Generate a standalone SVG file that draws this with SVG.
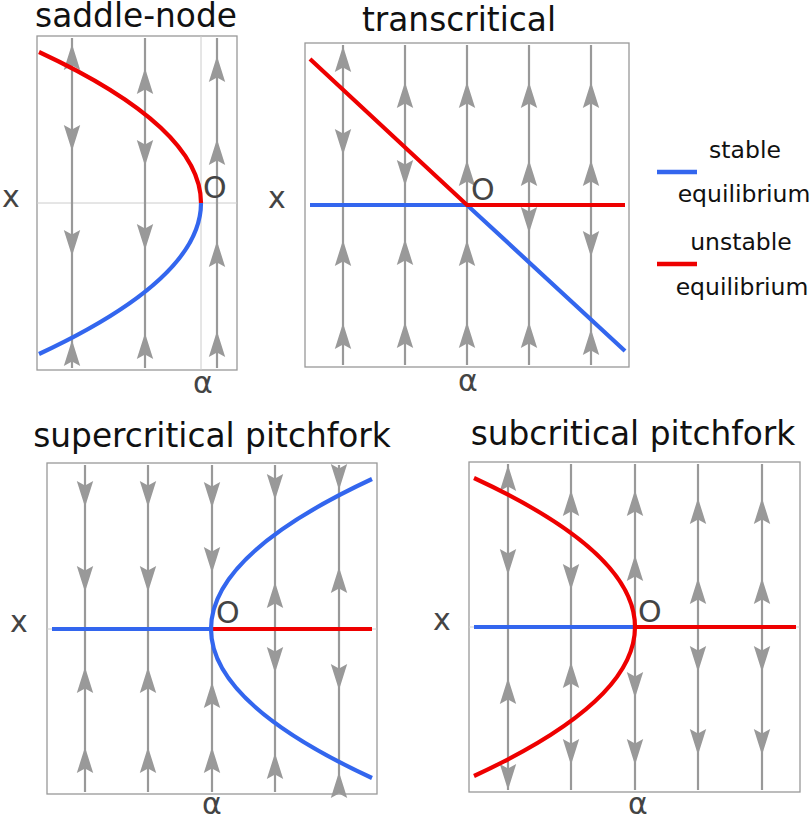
<svg xmlns="http://www.w3.org/2000/svg" xmlns:xlink="http://www.w3.org/1999/xlink" width="812" height="819" viewBox="0 0 812 819">
<style>
.frame{fill:none;stroke:#999;stroke-width:1.3}
.axis{stroke:#ccc;stroke-width:1}
.sl{stroke:#999;stroke-width:2.2;fill:none}
.ar{fill:#999}
.st{stroke:#3366ee;stroke-width:4.2;fill:none}
.un{stroke:#ee0000;stroke-width:4.2;fill:none}
.title{font-family:"DejaVu Sans",sans-serif;font-size:32.8px;fill:#111;text-anchor:middle}
.lab{font-family:"DejaVu Sans",sans-serif;font-size:30px;fill:#444}
.leg{font-family:"DejaVu Sans",sans-serif;font-size:23.5px;fill:#111;text-anchor:middle}
</style>
<defs>
<path id="au" class="ar" d="M0,0 L8.2,26 L0,21.5 L-8.2,26Z"/>
<path id="ad" class="ar" d="M0,0 L8.2,-26 L0,-21.5 L-8.2,-26Z"/>
</defs>
<rect width="812" height="819" fill="#fff"/>

<g id="saddle-node">
<text class="title" x="136" y="27">saddle-node</text>
<rect class="frame" x="37" y="36" width="200" height="334"/>
<line class="axis" x1="37" y1="203" x2="237" y2="203"/>
<line class="axis" x1="201" y1="36" x2="201" y2="370"/>
<g class="sl">
<line x1="72" y1="38" x2="72" y2="368"/>
<line x1="145" y1="38" x2="145" y2="368"/>
<line x1="217" y1="38" x2="217" y2="368"/>
</g>
<use xlink:href="#au" x="72" y="44"/><use xlink:href="#ad" x="72" y="151"/><use xlink:href="#ad" x="72" y="256"/><use xlink:href="#au" x="72" y="340"/>
<use xlink:href="#au" x="145" y="68"/><use xlink:href="#ad" x="145" y="166"/><use xlink:href="#ad" x="145" y="250"/><use xlink:href="#au" x="145" y="333"/>
<use xlink:href="#au" x="217" y="56"/><use xlink:href="#au" x="217" y="139"/><use xlink:href="#au" x="217" y="241"/><use xlink:href="#au" x="217" y="331"/>
<path class="un" d="M39,52 Q201,127.5 201,203"/>
<path class="st" d="M201,203 Q201,278.5 39,354"/>
<text class="lab" x="203" y="198">O</text>
<text class="lab" x="11" y="207" text-anchor="middle">x</text>
<text class="lab" x="203" y="393" text-anchor="middle">α</text>
</g>

<g id="transcritical">
<text class="title" x="459" y="31">transcritical</text>
<rect class="frame" x="305" y="43" width="324" height="324"/>
<g class="sl">
<line x1="343" y1="45" x2="343" y2="365"/>
<line x1="405" y1="45" x2="405" y2="365"/>
<line x1="467" y1="45" x2="467" y2="365"/>
<line x1="529" y1="45" x2="529" y2="365"/>
<line x1="591" y1="45" x2="591" y2="365"/>
</g>
<use xlink:href="#au" x="343" y="46"/><use xlink:href="#ad" x="343" y="155"/><use xlink:href="#au" x="343" y="240"/><use xlink:href="#au" x="343" y="323"/>
<use xlink:href="#au" x="405" y="82"/><use xlink:href="#ad" x="405" y="186"/><use xlink:href="#au" x="405" y="239"/><use xlink:href="#au" x="405" y="322"/>
<use xlink:href="#au" x="467" y="82"/><use xlink:href="#au" x="467" y="160"/><use xlink:href="#au" x="467" y="240"/><use xlink:href="#au" x="467" y="322"/>
<use xlink:href="#au" x="529" y="82"/><use xlink:href="#au" x="529" y="160"/><use xlink:href="#ad" x="529" y="233"/><use xlink:href="#au" x="529" y="322"/>
<use xlink:href="#au" x="591" y="82"/><use xlink:href="#au" x="591" y="160"/><use xlink:href="#ad" x="591" y="257"/><use xlink:href="#au" x="591" y="329"/>
<path class="st" d="M310,205 L467,205 L625,351"/>
<path class="un" d="M310,59 L467,205 L625,205"/>
<text class="lab" x="471" y="200">O</text>
<text class="lab" x="277" y="208" text-anchor="middle">x</text>
<text class="lab" x="468" y="391" text-anchor="middle">α</text>
</g>

<g id="legend">
<line x1="657" y1="172" x2="697" y2="172" stroke="#3366ee" stroke-width="4.5"/>
<text class="leg" x="745" y="158">stable</text>
<text class="leg" x="744" y="202">equilibrium</text>
<line x1="657" y1="264" x2="697" y2="264" stroke="#ee0000" stroke-width="4.5"/>
<text class="leg" x="741" y="250">unstable</text>
<text class="leg" x="742" y="295">equilibrium</text>
</g>

<g id="supercritical-pitchfork">
<text class="title" x="212" y="447">supercritical pitchfork</text>
<rect class="frame" x="47" y="463" width="330" height="331"/>
<line class="axis" x1="47" y1="629" x2="377" y2="629"/>
<g class="sl">
<line x1="85" y1="465" x2="85" y2="792"/>
<line x1="148" y1="465" x2="148" y2="792"/>
<line x1="212" y1="465" x2="212" y2="792"/>
<line x1="275" y1="465" x2="275" y2="792"/>
<line x1="339" y1="465" x2="339" y2="792"/>
</g>
<use xlink:href="#ad" x="85" y="507"/><use xlink:href="#ad" x="85" y="592"/><use xlink:href="#au" x="85" y="667"/><use xlink:href="#au" x="85" y="747"/>
<use xlink:href="#ad" x="148" y="507"/><use xlink:href="#ad" x="148" y="592"/><use xlink:href="#au" x="148" y="667"/><use xlink:href="#au" x="148" y="747"/>
<use xlink:href="#ad" x="212" y="508"/><use xlink:href="#ad" x="212" y="573"/><use xlink:href="#au" x="212" y="682"/><use xlink:href="#au" x="212" y="747"/>
<use xlink:href="#ad" x="275" y="500"/><use xlink:href="#au" x="275" y="582"/><use xlink:href="#ad" x="275" y="673"/><use xlink:href="#au" x="275" y="753"/>
<use xlink:href="#ad" x="339" y="490"/><use xlink:href="#au" x="339" y="567"/><use xlink:href="#ad" x="339" y="690"/><use xlink:href="#au" x="339" y="772"/>
<path class="st" d="M52,629 L211,629"/>
<path class="un" d="M211,629 L372,629"/>
<path class="st" d="M372,479 Q211,554 211,629 Q211,703.5 372,778"/>
<text class="lab" x="216" y="623">O</text>
<text class="lab" x="19" y="632" text-anchor="middle">x</text>
<text class="lab" x="212" y="814" text-anchor="middle">α</text>
</g>

<g id="subcritical-pitchfork">
<text class="title" x="633" y="445">subcritical pitchfork</text>
<rect class="frame" x="469" y="462" width="331" height="330"/>
<line class="axis" x1="469" y1="627" x2="800" y2="627"/>
<g class="sl">
<line x1="508" y1="464" x2="508" y2="790"/>
<line x1="571" y1="464" x2="571" y2="790"/>
<line x1="635" y1="464" x2="635" y2="790"/>
<line x1="698" y1="464" x2="698" y2="790"/>
<line x1="762" y1="464" x2="762" y2="790"/>
</g>
<use xlink:href="#au" x="508" y="465"/><use xlink:href="#ad" x="508" y="575"/><use xlink:href="#au" x="508" y="678"/><use xlink:href="#ad" x="508" y="790"/>
<use xlink:href="#au" x="571" y="490"/><use xlink:href="#ad" x="571" y="590"/><use xlink:href="#au" x="571" y="662"/><use xlink:href="#ad" x="571" y="765"/>
<use xlink:href="#au" x="635" y="490"/><use xlink:href="#au" x="635" y="555"/><use xlink:href="#ad" x="635" y="698"/><use xlink:href="#ad" x="635" y="765"/>
<use xlink:href="#au" x="698" y="498"/><use xlink:href="#au" x="698" y="578"/><use xlink:href="#ad" x="698" y="672"/><use xlink:href="#ad" x="698" y="755"/>
<use xlink:href="#au" x="762" y="498"/><use xlink:href="#au" x="762" y="578"/><use xlink:href="#ad" x="762" y="672"/><use xlink:href="#ad" x="762" y="755"/>
<path class="st" d="M474,627 L635,627"/>
<path class="un" d="M635,627 L796,627"/>
<path class="un" d="M474,478 Q635,552.5 635,627 Q635,701.5 474,776"/>
<text class="lab" x="638" y="622">O</text>
<text class="lab" x="442" y="630" text-anchor="middle">x</text>
<text class="lab" x="638" y="814" text-anchor="middle">α</text>
</g>
</svg>
